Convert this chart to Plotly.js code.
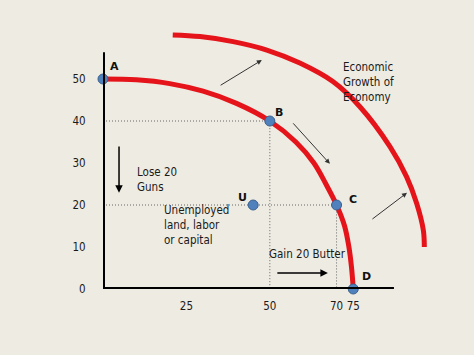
<!DOCTYPE html>
<html>
<head>
<meta charset="utf-8">
<script src="https://cdn.plot.ly/plotly-3.0.1.min.js"></script>
<style>
html,body{margin:0;padding:0;background:#EEEBE2;}
#chart{width:474px;height:355px;}
</style>
</head>
<body>
<div id="chart"></div>
<script>
// Production possibilities frontier (Butter vs Guns)
const ppfButter = [0, 10, 20, 30, 40, 50, 57.8, 63.2, 66.8, 70, 72.4, 73.7, 74.5, 75];
const ppfGuns   = [50, 49.8, 48.9, 47.1, 44.2, 40, 35, 30, 25, 20, 15, 10, 5, 0];

// Frontier after economic growth
const grownButter = [20.9, 29.1, 39.0, 49.1, 59.0, 68.9, 77.0, 86.0, 91.0, 94.0, 96.0, 96.3];
const grownGuns   = [60.5, 60.1, 58.9, 56.9, 53.8, 49.4, 43.4, 33.9, 26.7, 20.4, 14.0, 10.0];

// Labelled points
const pointLabels = ['A', 'B', 'C', 'D', 'U'];
const pointButter = [0, 50, 70, 75, 45];
const pointGuns   = [50, 40, 20, 0, 20];

// Axis ticks
const gunsTicks   = [0, 10, 20, 30, 40, 50];
const butterTicks = [25, 50, 70, 75];

const FONT = '"DejaVu Sans Condensed", "DejaVu Sans", sans-serif';
const RED = '#E5141B';

const guide = {color: '#666', width: 1, dash: '1px,2px'};
const traces = [
  {x: [0, pointButter[1], pointButter[1]], y: [pointGuns[1], pointGuns[1], 0], mode: 'lines', line: guide, hoverinfo: 'skip'},
  {x: [0, pointButter[2], pointButter[2]], y: [pointGuns[2], pointGuns[2], 0], mode: 'lines', line: guide, hoverinfo: 'skip'},
  {x: ppfButter, y: ppfGuns, mode: 'lines', line: {color: RED, width: 5, shape: 'spline', smoothing: 1}},
  {x: grownButter, y: grownGuns, mode: 'lines', line: {color: RED, width: 5, shape: 'spline', smoothing: 1}},
  {x: pointButter, y: pointGuns, mode: 'markers',
   marker: {size: 10, color: '#4F81BD', line: {color: '#3A6190', width: 1}},
   cliponaxis: false}
];

// label offsets (px) for the point letters
const letterShift = [[11, 13], [9, 9], [16, 6], [13, 13], [-11, 8]];

function arrow(x, y, ax, ay, w, col) {
  return {x: x, y: y, ax: ax, ay: ay, xref: 'x', yref: 'y', axref: 'x', ayref: 'y',
          text: '', showarrow: true, arrowhead: 2, arrowsize: 1, arrowwidth: w,
          arrowcolor: col, standoff: 0, startstandoff: 0};
}
function label(x, y, text, size, xanchor) {
  return {x: x, y: y, xref: 'x', yref: 'y', text: text, showarrow: false,
          xanchor: xanchor || 'left', yanchor: 'middle', align: 'left',
          font: {family: FONT, size: size, color: '#1a1a1a'}};
}

const letterAnns = pointLabels.map((t, i) => ({
  x: pointButter[i], y: pointGuns[i], xref: 'x', yref: 'y', text: t, showarrow: false,
  xanchor: 'center', yanchor: 'middle', xshift: letterShift[i][0], yshift: letterShift[i][1],
  font: {family: '"DejaVu Sans", sans-serif', size: 11, color: '#111', weight: 'bold'}
}));

const layout = {
  width: 474, height: 355,
  margin: {l: 103, r: 34, t: 30, b: 66},
  paper_bgcolor: '#EEEBE2', plot_bgcolor: '#EEEBE2',
  showlegend: false,
  font: {family: FONT, size: 11.5, color: '#1a1a1a'},
  xaxis: {range: [0, 101], showgrid: false, zeroline: false, showline: false,
          tickmode: 'array', tickvals: butterTicks, ticks: 'outside', ticklen: 6,
          tickcolor: 'rgba(0,0,0,0)', tickfont: {family: FONT, size: 11.5, color: '#1a1a1a'}},
  yaxis: {range: [0, 61.67], showgrid: false, zeroline: false, showline: false,
          tickmode: 'array', tickvals: gunsTicks, ticks: 'outside', ticklen: 14,
          tickcolor: 'rgba(0,0,0,0)', tickfont: {family: FONT, size: 11.5, color: '#1a1a1a'}},
  shapes: [
    {type: 'line', xref: 'x', yref: 'y', x0: 0, y0: 0, x1: 0, y1: 56.4, line: {color: '#000', width: 4}},
    {type: 'line', xref: 'x', yref: 'y', x0: 0, y0: 0, x1: 87.2, y1: 0, line: {color: '#000', width: 4}}
  ],
  annotations: [
    arrow(47.6, 54.5, 34.8, 48.3, 1, '#333'),
    arrow(68.0, 29.8, 56.6, 39.8, 1, '#333'),
    arrow(91.1, 22.9, 80.3, 16.4, 1, '#333'),
    arrow(4.8, 22.9, 4.8, 34.3, 1.5, '#000'),
    arrow(67.4, 3.8, 51.8, 3.8, 1.5, '#000'),
    label(71.3, 49.2, 'Economic<br>Growth of<br>Economy', 11.5),
    label(9.6, 26.1, 'Lose 20<br>Guns', 11.5),
    label(17.7, 15.2, 'Unemployed<br>land, labor<br>or capital', 11.5),
    label(49.1, 8.3, 'Gain 20 Butter', 11.5),
    label(-20.7, 57.4, 'Guns', 15.5, 'center'),
    label(90.5, -4.8, 'Butter', 15.5, 'center')
  ].concat(letterAnns)
};

Plotly.newPlot('chart', traces, layout, {displayModeBar: false, staticPlot: true});
</script>
</body>
</html>
